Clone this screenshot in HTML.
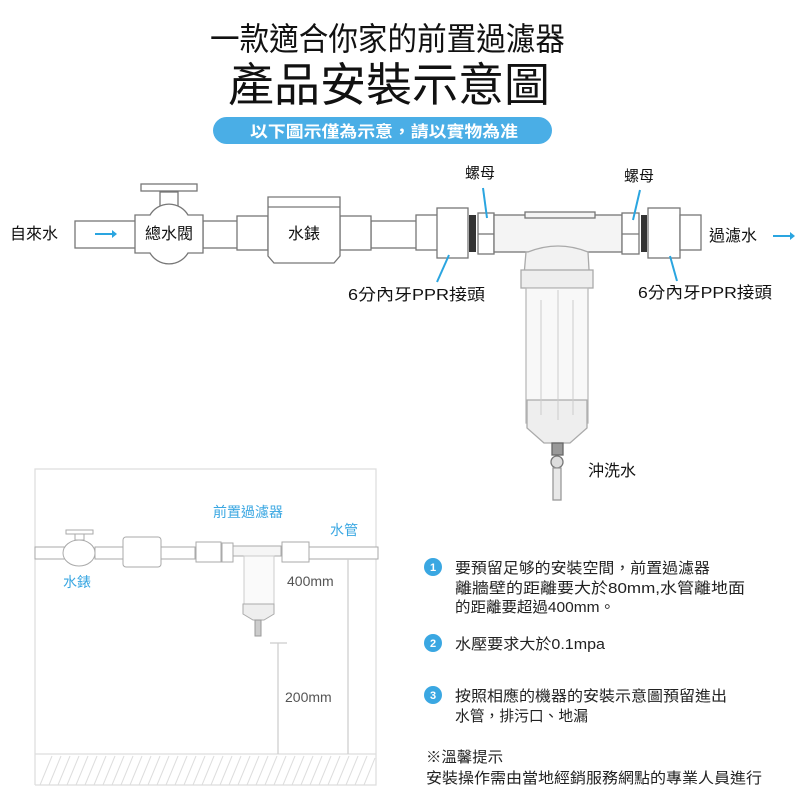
<!DOCTYPE html>
<html><head><meta charset="utf-8"><style>
html,body{margin:0;padding:0;background:#fff;}
svg text{font-family:"Liberation Sans","Noto Sans CJK TC",sans-serif;}
</style></head><body>
<svg width="800" height="800" viewBox="0 0 800 800" xmlns="http://www.w3.org/2000/svg">
<rect width="800" height="800" fill="#fff"/>
<!-- titles -->
<text x="210" y="50" font-size="32" textLength="355" lengthAdjust="spacingAndGlyphs" fill="#111">一款適合你家的前置過濾器</text>
<text x="389" y="101" font-size="46" text-anchor="middle" fill="#111">產品安裝示意圖</text>
<rect x="213" y="117" width="339" height="27" rx="13.5" fill="#4aaee6"/>
<text x="250" y="137" font-size="16" font-weight="bold" textLength="268" lengthAdjust="spacingAndGlyphs" fill="#fff">以下圖示僅為示意，請以實物為准</text>

<!-- top pipeline -->
<g fill="#fff" stroke="#777" stroke-width="1.3">
<rect x="75" y="221" width="62" height="27"/>
<rect x="203" y="221" width="36" height="27"/>
<rect x="371" y="221" width="46" height="27"/>
<rect x="160" y="192" width="18" height="22"/>
<rect x="141" y="184" width="56" height="7"/>
<path d="M135 215 L150 215 A22 22 0 0 1 188 215 L203 215 L203 253 L188 253 A22 22 0 0 1 150 253 L135 253 Z"/>
<rect x="237" y="216" width="31" height="34"/>
<rect x="340" y="216" width="31" height="34"/>
<path d="M268 197 L340 197 L340 256 L334 263 L274 263 L268 256 Z"/>
<line x1="268" y1="207" x2="340" y2="207"/>
<rect x="416" y="215" width="22" height="35"/>
<rect x="437" y="208" width="31" height="50"/>
<rect x="469" y="215" width="7" height="37" fill="#333" stroke="none"/>
<rect x="478" y="213" width="16" height="41"/>
<line x1="478" y1="234" x2="494" y2="234"/>
<rect x="494" y="215" width="128" height="37" fill="#f4f4f4"/>
<rect x="525" y="212" width="70" height="6" fill="#f4f4f4"/>
<rect x="622" y="213" width="17" height="41"/>
<line x1="622" y1="234" x2="639" y2="234"/>
<rect x="641" y="215" width="6" height="37" fill="#333" stroke="none"/>
<rect x="648" y="208" width="32" height="50"/>
<rect x="680" y="215" width="21" height="35"/>
<path d="M528 252 Q558 240 588 252 L590 287 L523 287 L526 252 Z" fill="#f2f2f2" stroke="#aaa"/>
<rect x="521" y="270" width="72" height="18" fill="#eee" stroke="#aaa"/>
<rect x="526" y="288" width="62" height="135" fill="#f8f8f8" stroke="#bbb"/>
<path d="M527 400 L587 400 L587 428 L570 443 L544 443 L527 428 Z" fill="#eee" stroke="#aaa"/>
<rect x="552" y="443" width="11" height="12" fill="#999" stroke="#666"/>
<circle cx="557" cy="462" r="6" fill="#ddd" stroke="#777"/>
<rect x="553" y="468" width="8" height="32" fill="#e8e8e8" stroke="#999"/>
</g>
<g stroke="#ccc" stroke-width="1" fill="none">
<line x1="541" y1="300" x2="541" y2="415"/><line x1="573" y1="300" x2="573" y2="415"/>
<line x1="558" y1="290" x2="558" y2="420"/>
</g>
<!-- labels -->
<g font-size="16" fill="#111">
<text x="10" y="239">自來水</text>
<text x="169" y="239" text-anchor="middle">總水閥</text>
<text x="304" y="239" text-anchor="middle">水錶</text>
<text x="709" y="241">過濾水</text>
<text x="465" y="178" font-size="15">螺母</text>
<text x="624" y="181" font-size="15">螺母</text>
<text x="348" y="300" textLength="137" lengthAdjust="spacingAndGlyphs">6分內牙PPR接頭</text>
<text x="638" y="298" textLength="134" lengthAdjust="spacingAndGlyphs">6分內牙PPR接頭</text>
<text x="588" y="476">沖洗水</text>
</g>
<g stroke="#2aa5e0" stroke-width="2" fill="#2aa5e0">
<line x1="95" y1="234" x2="112" y2="234"/><path d="M112 230 L117 234 L112 238 Z" stroke="none"/>
<line x1="773" y1="236" x2="790" y2="236"/><path d="M790 232 L795 236 L790 240 Z" stroke="none"/>
<line x1="483" y1="188" x2="487" y2="218" fill="none"/>
<line x1="640" y1="190" x2="633" y2="220" fill="none"/>
<line x1="449" y1="255" x2="437" y2="282" fill="none"/>
<line x1="670" y1="256" x2="677" y2="281" fill="none"/>
</g>

<!-- bottom-left scene -->
<g stroke="#ddd" stroke-width="1.2" fill="none">
<polyline points="35,785 35,469 376,469 376,785 35,785"/>
<line x1="35" y1="754" x2="376" y2="754"/>
</g>
<g stroke="#ddd" stroke-width="1">
<line x1="40" y1="785" x2="52" y2="756"/><line x1="49" y1="785" x2="61" y2="756"/><line x1="58" y1="785" x2="70" y2="756"/><line x1="67" y1="785" x2="79" y2="756"/><line x1="76" y1="785" x2="88" y2="756"/><line x1="85" y1="785" x2="97" y2="756"/><line x1="94" y1="785" x2="106" y2="756"/><line x1="103" y1="785" x2="115" y2="756"/><line x1="112" y1="785" x2="124" y2="756"/><line x1="121" y1="785" x2="133" y2="756"/><line x1="130" y1="785" x2="142" y2="756"/><line x1="139" y1="785" x2="151" y2="756"/><line x1="148" y1="785" x2="160" y2="756"/><line x1="157" y1="785" x2="169" y2="756"/><line x1="166" y1="785" x2="178" y2="756"/><line x1="175" y1="785" x2="187" y2="756"/><line x1="184" y1="785" x2="196" y2="756"/><line x1="193" y1="785" x2="205" y2="756"/><line x1="202" y1="785" x2="214" y2="756"/><line x1="211" y1="785" x2="223" y2="756"/><line x1="220" y1="785" x2="232" y2="756"/><line x1="229" y1="785" x2="241" y2="756"/><line x1="238" y1="785" x2="250" y2="756"/><line x1="247" y1="785" x2="259" y2="756"/><line x1="256" y1="785" x2="268" y2="756"/><line x1="265" y1="785" x2="277" y2="756"/><line x1="274" y1="785" x2="286" y2="756"/><line x1="283" y1="785" x2="295" y2="756"/><line x1="292" y1="785" x2="304" y2="756"/><line x1="301" y1="785" x2="313" y2="756"/><line x1="310" y1="785" x2="322" y2="756"/><line x1="319" y1="785" x2="331" y2="756"/><line x1="328" y1="785" x2="340" y2="756"/><line x1="337" y1="785" x2="349" y2="756"/><line x1="346" y1="785" x2="358" y2="756"/><line x1="355" y1="785" x2="367" y2="756"/><line x1="364" y1="785" x2="375" y2="758"/>
</g>
<g stroke="#aaa" stroke-width="1" fill="#fff">
<rect x="35" y="547" width="30" height="12"/>
<rect x="95" y="547" width="30" height="12"/>
<rect x="160" y="547" width="35" height="12"/>
<rect x="308" y="547" width="70" height="12"/>
<rect x="66" y="530" width="27" height="4"/>
<rect x="75" y="534" width="9" height="6"/>
<ellipse cx="79" cy="553" rx="16" ry="13"/>
<rect x="123" y="537" width="38" height="30" rx="3"/>
<rect x="196" y="542" width="25" height="20"/>
<rect x="222" y="543" width="11" height="19"/>
<rect x="233" y="546" width="48" height="10" fill="#f5f5f5"/>
<rect x="282" y="542" width="27" height="20"/>
<rect x="244" y="556" width="30" height="48" fill="#fafafa" stroke="#ccc"/>
<path d="M243 604 L274 604 L274 614 L264 620 L253 620 L243 614 Z" fill="#eee"/>
<rect x="255" y="620" width="6" height="16" fill="#ccc" stroke="#999"/>
</g>
<g stroke="#ccc" stroke-width="1.2">
<line x1="348" y1="559" x2="348" y2="754"/>
<line x1="278" y1="643" x2="278" y2="754"/>
<line x1="270" y1="643" x2="287" y2="643"/>
</g>
<g font-size="14" fill="#555">
<text x="287" y="586">400mm</text>
<text x="285" y="702">200mm</text>
</g>
<g font-size="14" fill="#3aa7e2">
<text x="213" y="517">前置過濾器</text>
<text x="330" y="535">水管</text>
<text x="63" y="587">水錶</text>
</g>

<!-- right notes -->
<g fill="#3aa7e2">
<circle cx="433" cy="567" r="9"/><circle cx="433" cy="643" r="9"/><circle cx="433" cy="695" r="9"/>
</g>
<g fill="#fff" font-size="11" font-weight="bold" text-anchor="middle">
<text x="433" y="571">1</text><text x="433" y="647">2</text><text x="433" y="699">3</text>
</g>
<g font-size="15" fill="#222" lengthAdjust="spacingAndGlyphs">
<text x="455" y="573" textLength="255" lengthAdjust="spacingAndGlyphs">要預留足够的安裝空間，前置過濾器</text>
<text x="455" y="593" textLength="290" lengthAdjust="spacingAndGlyphs">離牆壁的距離要大於80mm,水管離地面</text>
<text x="455" y="612" textLength="160" lengthAdjust="spacingAndGlyphs">的距離要超過400mm。</text>
<text x="455" y="649" textLength="150" lengthAdjust="spacingAndGlyphs">水壓要求大於0.1mpa</text>
<text x="455" y="701" textLength="272" lengthAdjust="spacingAndGlyphs">按照相應的機器的安裝示意圖預留進出</text>
<text x="455" y="721" textLength="133" lengthAdjust="spacingAndGlyphs">水管，排污口、地漏</text>
<text x="426" y="762" textLength="77" lengthAdjust="spacingAndGlyphs">※溫馨提示</text>
<text x="426" y="783" textLength="336" lengthAdjust="spacingAndGlyphs">安裝操作需由當地經銷服務網點的專業人員進行</text>
</g>
</svg>
</body></html>
